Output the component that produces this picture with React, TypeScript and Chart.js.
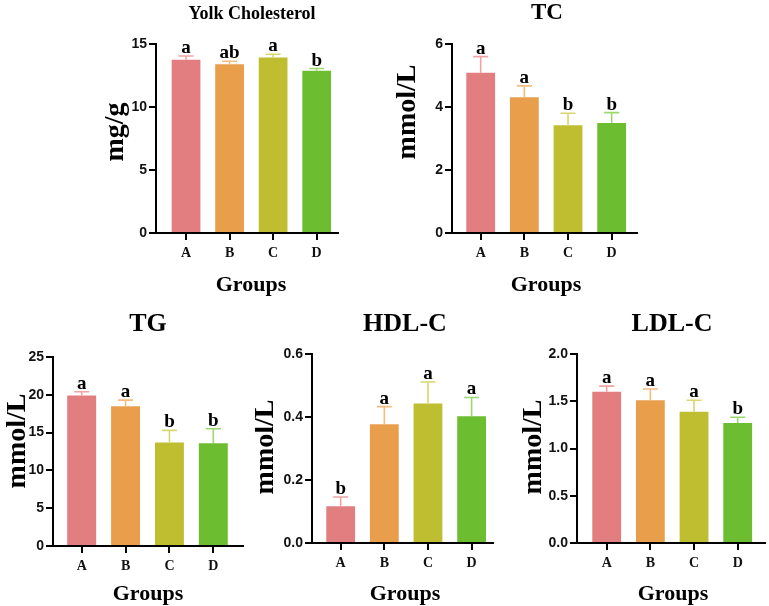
import React, { useEffect, useRef } from "react";
import { Chart, registerables } from "chart.js";

Chart.register(...registerables);

// ---------------- data ----------------
const GROUPS = ["A", "B", "C", "D"];

const YOLK_MEANS = [13.75, 13.39, 13.92, 12.87];
const YOLK_ERRORS = [0.3, 0.24, 0.27, 0.18];
const YOLK_LETTERS = ["a", "ab", "a", "b"];
const YOLK_TICKS = [0, 5, 10, 15];

const TC_MEANS = [5.09, 4.31, 3.42, 3.49];
const TC_ERRORS = [0.51, 0.36, 0.38, 0.33];
const TC_LETTERS = ["a", "a", "b", "b"];
const TC_TICKS = [0, 2, 4, 6];

const TG_MEANS = [19.9, 18.5, 13.7, 13.6];
const TG_ERRORS = [0.5, 0.8, 1.6, 1.9];
const TG_LETTERS = ["a", "a", "b", "b"];
const TG_TICKS = [0, 5, 10, 15, 20, 25];

const HDL_MEANS = [0.117, 0.377, 0.443, 0.402];
const HDL_ERRORS = [0.029, 0.056, 0.068, 0.06];
const HDL_LETTERS = ["b", "a", "a", "a"];
const HDL_TICKS = [0, 0.2, 0.4, 0.6];

const LDL_MEANS = [1.6, 1.51, 1.39, 1.27];
const LDL_ERRORS = [0.06, 0.12, 0.12, 0.06];
const LDL_LETTERS = ["a", "a", "a", "b"];
const LDL_TICKS = [0, 0.5, 1.0, 1.5, 2.0];

const X_TITLE = "Groups";

// ---------------- style ----------------
const BAR_COLORS = ["#E27E7F", "#E89E4B", "#BFBE31", "#6CBE30"];
const ERR_COLORS = ["#F0A3A3", "#F5BC7E", "#D9D66E", "#9DD86F"];
const SERIF = '"Liberation Serif", "Times New Roman", serif';
const SANS = '"Liberation Sans", Arial, sans-serif';
const Y_W = 40;
const X_H = 30;

type Panel = {
  title: string;
  titleSize: number;
  yTitle: string;
  means: number[];
  errors: number[];
  letters: string[];
  ticks: number[];
  decimals: number;
  box: { x: number; y: number; w: number; h: number };
  area: { l: number; t: number; r: number; b: number };
  xMin: number;
  xMax: number;
  titlePos: [number, number];
  yTitlePos: [number, number];
  xTitlePos: [number, number];
};

const PANELS: Panel[] = [
  {
    title: "Yolk Cholesterol", titleSize: 18, yTitle: "mg/g",
    means: YOLK_MEANS, errors: YOLK_ERRORS, letters: YOLK_LETTERS, ticks: YOLK_TICKS, decimals: 0,
    box: { x: 90, y: 0, w: 265, h: 305 }, area: { l: 156, t: 44, r: 338, b: 233 },
    xMin: -0.69, xMax: 3.49,
    titlePos: [252, 14], yTitlePos: [116, 132], xTitlePos: [251, 285],
  },
  {
    title: "TC", titleSize: 23, yTitle: "mmol/L",
    means: TC_MEANS, errors: TC_ERRORS, letters: TC_LETTERS, ticks: TC_TICKS, decimals: 0,
    box: { x: 390, y: 0, w: 265, h: 305 }, area: { l: 452, t: 44, r: 637, b: 233 },
    xMin: -0.657, xMax: 3.58,
    titlePos: [547, 13], yTitlePos: [408, 112], xTitlePos: [546, 285],
  },
  {
    title: "TG", titleSize: 26, yTitle: "mmol/L",
    means: TG_MEANS, errors: TG_ERRORS, letters: TG_LETTERS, ticks: TG_TICKS, decimals: 0,
    box: { x: 0, y: 305, w: 255, h: 301 }, area: { l: 53, t: 357, r: 243, b: 546 },
    xMin: -0.654, xMax: 3.677,
    titlePos: [148, 324], yTitlePos: [18, 441], xTitlePos: [148, 594],
  },
  {
    title: "HDL-C", titleSize: 26, yTitle: "mmol/L",
    means: HDL_MEANS, errors: HDL_ERRORS, letters: HDL_LETTERS, ticks: HDL_TICKS, decimals: 1,
    box: { x: 255, y: 305, w: 250, h: 301 }, area: { l: 312, t: 354, r: 493, b: 543 },
    xMin: -0.657, xMax: 3.49,
    titlePos: [405, 324], yTitlePos: [266, 447], xTitlePos: [405, 594],
  },
  {
    title: "LDL-C", titleSize: 26, yTitle: "mmol/L",
    means: LDL_MEANS, errors: LDL_ERRORS, letters: LDL_LETTERS, ticks: LDL_TICKS, decimals: 1,
    box: { x: 510, y: 305, w: 259, h: 301 }, area: { l: 577, t: 354, r: 765, b: 543 },
    xMin: -0.68, xMax: 3.625,
    titlePos: [672, 324], yTitlePos: [534, 447], xTitlePos: [673, 594],
  },
];

function makeAnnotate(p: Panel) {
  return {
    id: "annotate",
    afterDatasetsDraw(chart: any) {
      const ctx = chart.ctx;
      const meta = chart.getDatasetMeta(0);
      const ys = chart.scales.y;
      meta.data.forEach((bar: any, i: number) => {
        const top = ys.getPixelForValue(p.means[i] + p.errors[i]);
        const x = bar.x;
        ctx.save();
        ctx.strokeStyle = ERR_COLORS[i];
        ctx.lineWidth = 1.6;
        ctx.beginPath();
        ctx.moveTo(x, bar.y);
        ctx.lineTo(x, top);
        ctx.moveTo(x - 7.5, top);
        ctx.lineTo(x + 7.5, top);
        ctx.stroke();
        ctx.fillStyle = "#000";
        ctx.font = `bold 19px ${SERIF}`;
        ctx.textAlign = "center";
        ctx.textBaseline = "alphabetic";
        ctx.fillText(p.letters[i], x, top - 3);
        ctx.restore();
      });
    },
    afterDraw(chart: any) {
      const ctx = chart.ctx;
      const ox = p.box.x;
      const oy = p.box.y;
      ctx.save();
      ctx.fillStyle = "#000";
      ctx.textAlign = "center";
      ctx.textBaseline = "middle";
      ctx.font = `bold ${p.titleSize}px ${SERIF}`;
      ctx.fillText(p.title, p.titlePos[0] - ox, p.titlePos[1] - oy);
      ctx.font = `bold 22px ${SERIF}`;
      ctx.fillText(X_TITLE, p.xTitlePos[0] - ox, p.xTitlePos[1] - oy);
      ctx.translate(p.yTitlePos[0] - ox, p.yTitlePos[1] - oy);
      ctx.rotate(-Math.PI / 2);
      ctx.font = `bold 28px ${SERIF}`;
      ctx.fillText(p.yTitle, 0, 0);
      ctx.restore();
    },
  };
}

function BarPanel({ p }: { p: Panel }) {
  const ref = useRef<HTMLCanvasElement | null>(null);
  useEffect(() => {
    if (!ref.current) return;
    const pad = {
      left: p.area.l - p.box.x - Y_W,
      top: p.area.t - p.box.y,
      right: p.box.x + p.box.w - p.area.r,
      bottom: p.box.y + p.box.h - p.area.b - X_H,
    };
    const axisGrid = {
      display: true,
      drawOnChartArea: false,
      drawTicks: true,
      offset: false,
      tickLength: 7,
      color: "#000",
      lineWidth: 2,
    };
    const chart = new Chart(ref.current, {
      type: "bar",
      data: {
        datasets: [
          {
            data: p.means.map((v, i) => ({ x: i, y: v })),
            backgroundColor: BAR_COLORS,
            borderWidth: 0,
            categoryPercentage: 1,
            barPercentage: 0.66,
          },
        ],
      },
      options: {
        animation: false,
        responsive: false,
        devicePixelRatio: 1,
        layout: { padding: pad },
        plugins: { legend: { display: false }, tooltip: { enabled: false }, title: { display: false } },
        scales: {
          x: {
            type: "linear",
            min: p.xMin,
            max: p.xMax,
            offset: false,
            afterBuildTicks: (s: any) => {
              s.ticks = GROUPS.map((_, i) => ({ value: i }));
            },
            afterFit: (s: any) => {
              s.height = X_H;
            },
            ticks: {
              callback: (v: any) => GROUPS[Math.round(Number(v))] ?? "",
              font: { family: SERIF, size: 14, weight: "bold" },
              color: "#111",
              padding: 5,
              autoSkip: false,
              maxRotation: 0,
            },
            grid: axisGrid,
            border: { display: true, color: "#000", width: 2 },
          },
          y: {
            type: "linear",
            min: p.ticks[0],
            max: p.ticks[p.ticks.length - 1],
            afterBuildTicks: (s: any) => {
              s.ticks = p.ticks.map((v) => ({ value: v }));
            },
            afterFit: (s: any) => {
              s.width = Y_W;
            },
            ticks: {
              callback: (v: any) => Number(v).toFixed(p.decimals),
              font: { family: SANS, size: 14, weight: "bold" },
              color: "#111",
              padding: 2,
            },
            grid: axisGrid,
            border: { display: true, color: "#000", width: 2 },
          },
        },
      } as any,
      plugins: [makeAnnotate(p)],
    });
    return () => chart.destroy();
  }, [p]);
  return (
    <canvas
      ref={ref}
      width={p.box.w}
      height={p.box.h}
      style={{ position: "absolute", left: p.box.x, top: p.box.y, width: p.box.w, height: p.box.h }}
    />
  );
}

export default function App() {
  return (
    <div
      style={{
        position: "absolute",
        left: 0,
        top: 0,
        width: 769,
        height: 606,
        background: "#fff",
        overflow: "hidden",
      }}
    >
      {PANELS.map((p, i) => (
        <BarPanel key={i} p={p} />
      ))}
    </div>
  );
}
